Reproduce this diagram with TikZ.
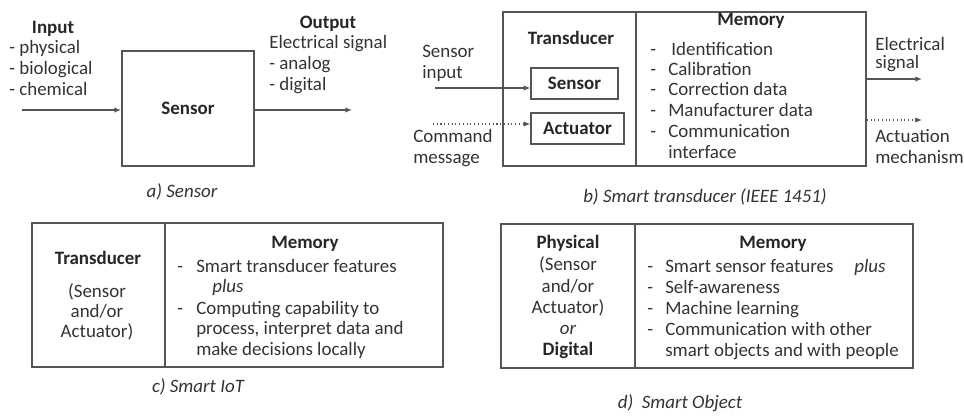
\documentclass[tikz,border=0pt]{standalone}
\usepackage{fontspec}
\setmainfont{Carlito}
\usetikzlibrary{arrows.meta}
\definecolor{ink}{HTML}{333333}
\definecolor{hink}{HTML}{262626}
\definecolor{rule}{HTML}{555555}
\begin{document}
\begin{tikzpicture}[x=0.75pt,y=-0.75pt,
  txt/.style={font=\fontsize{14.2pt}{15.75pt}\selectfont, text=ink, inner sep=0pt, anchor=base west},
  ctxt/.style={txt, anchor=base},
  hdr/.style={ctxt, text=hink, font=\fontsize{14.2pt}{15.75pt}\selectfont\bfseries},
  capt/.style={ctxt, font=\fontsize{14.2pt}{15.75pt}\selectfont\itshape},
  frame/.style={draw=rule, line width=1.4pt, inner sep=0pt},
  subbox/.style={draw=rule, line width=1.1pt, inner sep=0pt, text=hink,
    font=\fontsize{14.2pt}{15.75pt}\selectfont\bfseries},
  arr/.style={draw=rule, line width=0.8pt, -{Latex[length=5pt,width=4pt]}},
  dotarr/.style={arr, dotted}]
\useasboundingbox (0,0) rectangle (964,415);

% ---------- a) Sensor ----------
\node[hdr] (inT) at (53,33) {Input};
\foreach \t [count=\i from 0] in {physical, biological, chemical}
  \node[txt] (inL\i) at (9,53+21*\i) {- \t};
\node[frame, minimum width=99pt, minimum height=86.25pt, text=hink,
  font=\fontsize{14.2pt}{15.75pt}\selectfont\bfseries] (sensA) at (188,108.5) {Sensor};
\coordinate (inA) at (22,110);
\coordinate (outA) at (352,110);
\draw[arr] (inA) -- (inA -| sensA.west);
\draw[arr] (outA -| sensA.east) -- (outA);
\node[hdr] (outT) at (328,28) {Output};
\node[txt] (outL0) at (269,48) {Electrical signal};
\node[txt] (outL1) at (269,69) {- analog};
\node[txt] (outL2) at (269,90) {- digital};
\node[capt] (capA) at (182,197) {a) Sensor};

% ---------- b) Smart transducer ----------
\node[frame, minimum width=272.25pt, minimum height=115.5pt] (tbox) at (684.5,89) {};
\draw[rule, line width=1.4pt] (636,12) -- (636,166);
\node[hdr] (tdT) at (571,44) {Transducer};
\node[subbox, minimum width=65.25pt, minimum height=23.25pt] (sbox) at (574.5,83.5) {Sensor};
\node[subbox, minimum width=69.75pt, minimum height=23.25pt] (abox) at (577.5,128.5) {Actuator};
\node[txt] (siL0) at (422,57) {Sensor};
\node[txt] (siL1) at (422,78) {input};
\coordinate (sIn) at (435,88);
\draw[arr] (sIn) -- (sIn -| sbox.west);
\node[txt] (cmL0) at (413,142) {Command};
\node[txt] (cmL1) at (413,163) {message};
\coordinate (cIn) at (433,124);
\draw[dotarr] (cIn) -- (cIn -| abox.west);
\node[hdr] (memB) at (751,25) {Memory};
\foreach \t/\y [count=\i from 0] in {\,Identification/55, Calibration/75,
    Correction data/95, Manufacturer data/116, Communication/137}
  {\node[txt] (bd\i) at (650,\y) {-};
   \node[txt] (bm\i) at (668,\y) {\t};}
\node[txt] (bm5) at (668,158) {interface};
\coordinate (eOut) at (922,79);
\coordinate (aOut) at (922,120);
\draw[arr] (eOut -| tbox.east) -- (eOut);
\draw[dotarr] (aOut -| tbox.east) -- (aOut);
\node[txt] (esL0) at (875,50) {Electrical};
\node[txt] (esL1) at (875,68) {signal};
\node[txt] (amL0) at (875,142) {Actuation};
\node[txt] (amL1) at (875,163) {mechanism};
\node[capt] (capB) at (705,202) {b) Smart transducer (IEEE 1451)};

% ---------- c) Smart IoT ----------
\node[frame, minimum width=308.25pt, minimum height=108pt] (cbox) at (237.5,295) {};
\draw[rule, line width=1.4pt] (165,223) -- (165,367);
\node[hdr] (cT) at (98,264) {Transducer};
\node[ctxt] (cL0) at (97,297) {(Sensor};
\node[ctxt] (cL1) at (97,317) {and/or};
\node[ctxt] (cL2) at (97,337) {Actuator)};
\node[hdr] (memC) at (305,248) {Memory};
\node[txt] (cd0) at (177,272) {-};
\node[txt] (cm0) at (196,272) {Smart transducer features};
\node[txt, font=\fontsize{14.2pt}{15.75pt}\selectfont\itshape] (cplus) at (212,292) {plus};
\node[txt] (cd1) at (177,314) {-};
\node[txt] (cm1) at (196,314) {Computing capability to};
\node[txt] (cm2) at (196,334) {process, interpret data and};
\node[txt] (cm3) at (196,355) {make decisions locally};
\node[capt] (capC) at (198,392) {c) Smart IoT};

% ---------- d) Smart Object ----------
\node[frame, minimum width=309pt, minimum height=108pt] (dbox) at (707,296) {};
\draw[rule, line width=1.4pt] (635,224) -- (635,368);
\node[hdr] (dT) at (568,248) {Physical};
\node[ctxt] (dL0) at (568,270) {(Sensor};
\node[ctxt] (dL1) at (568,292) {and/or};
\node[ctxt] (dL2) at (568,313) {Actuator)};
\node[ctxt, font=\fontsize{14.2pt}{15.75pt}\selectfont\itshape] (dOr) at (568,334) {or};
\node[hdr] (dDig) at (568,355) {Digital};
\node[hdr] (memD) at (773,248) {Memory};
\foreach \t [count=\i from 0] in {Smart sensor features, Self-awareness,
    Machine learning, Communication with other}
  {\node[txt] (dd\i) at (647,272+21*\i) {-};
   \node[txt] (dm\i) at (665,272+21*\i) {\t};}
\node[txt] (dm4) at (665,356) {smart objects and with people};
\node[ctxt, font=\fontsize{14.2pt}{15.75pt}\selectfont\itshape] (dplus) at (870,272) {plus};
\node[capt] (capD) at (680,408) {d)~~Smart Object};
\end{tikzpicture}
\end{document}
